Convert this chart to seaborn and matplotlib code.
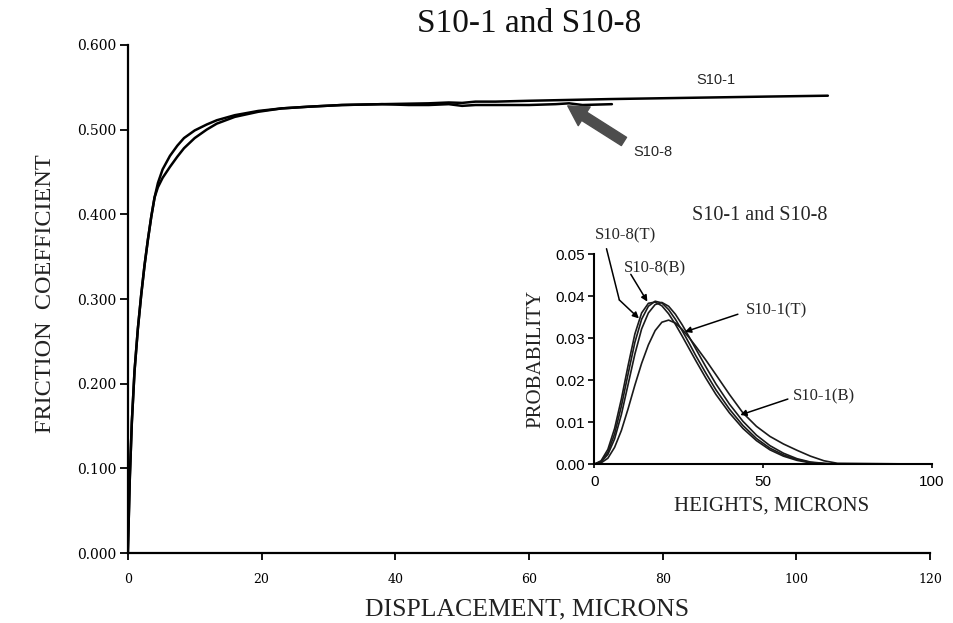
import numpy as np
import matplotlib.pyplot as plt
import seaborn as sns

sns.set_theme(style="ticks")
plt.rcParams["font.family"] = ["Liberation Serif", "DejaVu Serif"]

# ── main chart: friction coefficient vs displacement ──────────
s101_x = [0, 0.3, 0.6, 1.0, 1.5, 2.0, 2.5, 3.0, 3.5, 4.0, 4.5, 5.2, 6.3, 7.4, 8.4,
          10, 11.8, 13.3, 16, 19.5, 23, 27, 32, 38, 45, 48, 50, 52, 55, 60, 66,
          72, 80, 88, 96, 104.7]
s101_y = [0, 0.09, 0.155, 0.215, 0.265, 0.305, 0.34, 0.37, 0.397, 0.42, 0.437,
          0.453, 0.469, 0.481, 0.490, 0.499, 0.506, 0.511, 0.517, 0.522, 0.525,
          0.527, 0.529, 0.530, 0.531, 0.532, 0.5315, 0.533, 0.533, 0.534, 0.535,
          0.536, 0.537, 0.538, 0.539, 0.540]

s108_x = [0, 0.3, 0.6, 1.0, 1.5, 2.0, 2.5, 3.0, 3.5, 4.0, 4.5, 5.2, 6.3, 7.4, 8.4,
          10, 11.8, 13.3, 16, 19.5, 23, 27, 32, 38, 42, 45, 48, 50, 52, 55, 60,
          64, 66, 68, 72.4]
s108_y = [0, 0.09, 0.155, 0.215, 0.265, 0.305, 0.34, 0.37, 0.397, 0.42, 0.432,
          0.443, 0.456, 0.468, 0.478, 0.490, 0.500, 0.507, 0.515, 0.521, 0.525,
          0.527, 0.529, 0.530, 0.529, 0.529, 0.530, 0.528, 0.529, 0.529, 0.529,
          0.530, 0.531, 0.529, 0.530]

y_ticks = [0.0, 0.1, 0.2, 0.3, 0.4, 0.5, 0.6]
x_ticks = [0, 20, 40, 60, 80, 100, 120]

# ── inset: height distributions ───────────────────────────────
heights = [0, 2, 4, 6, 8, 10, 12, 14, 16, 18, 20, 22, 24, 26, 28, 30, 33, 36,
           40, 44, 48, 52, 56, 60, 64, 68, 72, 100]
p_s108_t = [0, 0.0008, 0.0035, 0.0085, 0.0155, 0.0235, 0.0310, 0.0360, 0.0383,
            0.0386, 0.0377, 0.0358, 0.0333, 0.0305, 0.0276, 0.0247, 0.0205,
            0.0166, 0.0122, 0.0085, 0.0056, 0.0034, 0.0019, 0.0009, 0.0003,
            0.0001, 0, 0]
p_s108_b = [0, 0.0006, 0.0028, 0.0072, 0.0138, 0.0215, 0.0290, 0.0345, 0.0376,
            0.0388, 0.0384, 0.0368, 0.0345, 0.0318, 0.0289, 0.0259, 0.0217,
            0.0177, 0.0131, 0.0092, 0.0061, 0.0038, 0.0022, 0.0011, 0.0004,
            0.0001, 0, 0]
p_s101_t = [0, 0.0005, 0.0023, 0.0060, 0.0118, 0.0190, 0.0262, 0.0322, 0.0360,
            0.0380, 0.0385, 0.0376, 0.0357, 0.0332, 0.0304, 0.0275, 0.0232,
            0.0191, 0.0143, 0.0102, 0.0069, 0.0044, 0.0026, 0.0013, 0.0005,
            0.0002, 0, 0]
p_s101_b = [0, 0.0003, 0.0014, 0.0040, 0.0080, 0.0132, 0.0188, 0.0240, 0.0284,
            0.0318, 0.0338, 0.0343, 0.0336, 0.0321, 0.0302, 0.0281, 0.0248,
            0.0213, 0.0166, 0.0122, 0.0090, 0.0066, 0.0048, 0.0033, 0.0019,
            0.0008, 0.0002, 0]
inset_yticks = [0.0, 0.01, 0.02, 0.03, 0.04, 0.05]
inset_xticks = [0, 50, 100]

SANS = ["Liberation Sans", "DejaVu Sans"]
TICKFONT = ["DejaVu Serif"]

fig = plt.figure(figsize=(9.54, 6.23), dpi=100)
ax = fig.add_axes([0.134, 0.112, 0.841, 0.816])

for xs, ys in [(s101_x, s101_y), (s108_x, s108_y)]:
    sns.lineplot(x=xs, y=ys, ax=ax, color="black", lw=1.8,
                 estimator=None, sort=False)

ax.set_xlim(0, 120)
ax.set_ylim(0, 0.6)
ax.set_xticks(x_ticks)
ax.set_xticklabels([str(v) for v in x_ticks], fontsize=9, family=TICKFONT)
ax.set_yticks(y_ticks)
ax.set_yticklabels([f"{v:.3f}" for v in y_ticks], fontsize=10, family=TICKFONT)
ax.tick_params(axis="y", direction="out", length=5.5, width=1.3, pad=3, colors="black")
ax.tick_params(axis="x", direction="out", length=5, width=1.3, pad=9, colors="black")
sns.despine(ax=ax)
for s in ["left", "bottom"]:
    ax.spines[s].set_linewidth(1.6)
    ax.spines[s].set_color("black")

ax.set_title("S10-1 and S10-8", fontsize=24, pad=9, color="#111111")
ax.set_xlabel("DISPLACEMENT, MICRONS", fontsize=18.5, color="#222222")
ax.set_ylabel("FRICTION  COEFFICIENT", fontsize=17.5, color="#222222")
ax.xaxis.set_label_coords(0.497, -0.088)
ax.yaxis.set_label_coords(-0.09, 0.51)

ax.text(88, 0.559, "S10-1", fontsize=10.5, ha="center", va="center", family=SANS)
ax.text(78.5, 0.474, "S10-8", fontsize=10.5, ha="center", va="center", family=SANS)
ax.annotate("", xy=(65.8, 0.528), xytext=(74.2, 0.486),
            arrowprops=dict(arrowstyle="simple,head_length=0.7,head_width=0.8,tail_width=0.35",
                            color="#4d4d4d", mutation_scale=20, shrinkA=0, shrinkB=0))

# ── inset ─────────────────────────────────────────────────────
ax_in = fig.add_axes([0.623, 0.255, 0.354, 0.337])
ax_in.patch.set_alpha(0)
for ps in [p_s108_t, p_s108_b, p_s101_t, p_s101_b]:
    sns.lineplot(x=heights, y=ps, ax=ax_in, color="#1a1a1a", lw=1.2,
                 estimator=None, sort=False)
ax_in.set_xlim(0, 100)
ax_in.set_ylim(0, 0.05)
ax_in.set_xticks(inset_xticks)
ax_in.set_xticklabels([str(v) for v in inset_xticks], fontsize=11, family=SANS)
ax_in.set_yticks(inset_yticks)
ax_in.set_yticklabels([f"{v:.2f}" for v in inset_yticks], fontsize=11, family=SANS)
ax_in.tick_params(axis="y", direction="out", length=4, width=1.2, pad=3, colors="black")
ax_in.tick_params(axis="x", direction="out", length=3, width=1.2, pad=5, colors="black")
sns.despine(ax=ax_in)
for s in ["left", "bottom"]:
    ax_in.spines[s].set_linewidth(1.5)
    ax_in.spines[s].set_color("black")
ax_in.set_xlabel("HEIGHTS, MICRONS", fontsize=15, color="#222222")
ax_in.set_ylabel("PROBABILITY", fontsize=15, color="#222222")
ax_in.xaxis.set_label_coords(0.526, -0.155)
ax_in.yaxis.set_label_coords(-0.145, 0.5)
ax_in.text(0.491, 1.186, "S10-1 and S10-8", transform=ax_in.transAxes,
           fontsize=14.5, ha="center", va="center")

arrow_kw = dict(arrowstyle="-|>", color="black", lw=1.1, mutation_scale=9,
                shrinkA=0, shrinkB=0)
# S10-8(T): bent leader line
ax_in.text(0.3, 0.0545, "S10-8(T)", fontsize=12, ha="left", va="center")
ax_in.plot([3.6, 7.4], [0.0513, 0.0391], color="black", lw=1.1, clip_on=False)
ax_in.annotate("", xy=(13.2, 0.0347), xytext=(7.4, 0.0391), arrowprops=arrow_kw)
# S10-8(B)
ax_in.text(8.8, 0.0466, "S10-8(B)", fontsize=12, ha="left", va="center")
ax_in.annotate("", xy=(15.7, 0.0387), xytext=(10.8, 0.0452), arrowprops=arrow_kw)
# S10-1(T)
ax_in.text(44.8, 0.0367, "S10-1(T)", fontsize=12, ha="left", va="center")
ax_in.annotate("", xy=(26.8, 0.0315), xytext=(42.5, 0.0357), arrowprops=arrow_kw)
# S10-1(B)
ax_in.text(58.8, 0.0161, "S10-1(B)", fontsize=12, ha="left", va="center")
ax_in.annotate("", xy=(43.2, 0.0117), xytext=(57.3, 0.0155), arrowprops=arrow_kw)

fig.savefig("out.png", dpi=100)
